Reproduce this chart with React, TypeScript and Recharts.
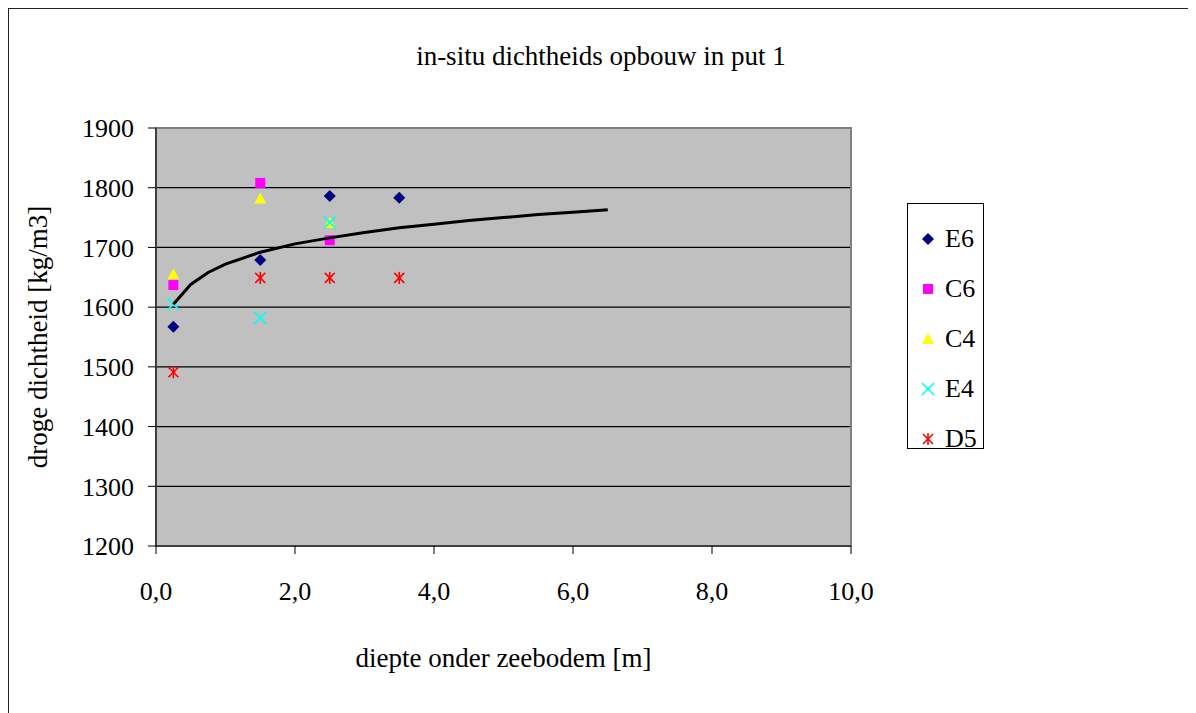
import React from "react"
import {
  ComposedChart, Scatter, XAxis, YAxis, CartesianGrid, ReferenceArea, Label
} from "recharts"

// diepte [m] per meetpunt
const depthE6 = [0.25, 1.5, 2.5, 3.5]
const densE6 = [1567, 1679, 1786, 1783]
const depthC6 = [0.25, 1.5, 2.5]
const densC6 = [1637, 1808, 1712]
const depthC4 = [0.25, 1.5, 2.5]
const densC4 = [1655, 1782, 1741]
const depthE4 = [0.25, 1.5, 2.5]
const densE4 = [1605, 1582, 1742]
const depthD5 = [0.25, 1.5, 2.5, 3.5]
const densD5 = [1491, 1649, 1649, 1649]

// trendlijn
const trendDepth = [0.25, 0.5, 0.75, 1.0, 1.5, 2.0, 2.5, 3.0, 3.5, 4.0, 4.5, 5.0, 5.5, 6.0, 6.5]
const trendDens = [1605, 1638, 1658, 1672, 1692, 1706, 1716, 1725, 1733, 1739, 1745, 1750, 1755, 1759, 1763]

const xTicks = [0, 2, 4, 6, 8, 10]
const yTicks = [1200, 1300, 1400, 1500, 1600, 1700, 1800, 1900]

const FONT = "'Liberation Serif', 'DejaVu Serif', serif"

const toPoints = (xs: number[], ys: number[]) => xs.map((x, i) => ({ x, y: ys[i] }))

type Kind = "diamond" | "square" | "triangle" | "x" | "star"

const series: { name: string; kind: Kind; color: string; data: { x: number; y: number }[] }[] = [
  { name: "E6", kind: "diamond", color: "#000080", data: toPoints(depthE6, densE6) },
  { name: "C6", kind: "square", color: "#ff00ff", data: toPoints(depthC6, densC6) },
  { name: "C4", kind: "triangle", color: "#ffff00", data: toPoints(depthC4, densC4) },
  { name: "E4", kind: "x", color: "#00ffff", data: toPoints(depthE4, densE4) },
  { name: "D5", kind: "star", color: "#ff0000", data: toPoints(depthD5, densD5) },
]

function Marker({ cx, cy, kind, color }: { cx: number; cy: number; kind: Kind; color: string }) {
  if (cx == null || cy == null) return null
  const r = 6
  switch (kind) {
    case "diamond":
      return <polygon points={`${cx},${cy - r} ${cx + r},${cy} ${cx},${cy + r} ${cx - r},${cy}`} fill={color} />
    case "square":
      return <rect x={cx - 5} y={cy - 5} width={10} height={10} fill={color} />
    case "triangle":
      return <polygon points={`${cx},${cy - 6} ${cx + 6},${cy + 5} ${cx - 6},${cy + 5}`} fill={color} />
    case "x":
      return (
        <g stroke={color} strokeWidth={1.6}>
          <line x1={cx - 6} y1={cy - 6} x2={cx + 6} y2={cy + 6} />
          <line x1={cx - 6} y1={cy + 6} x2={cx + 6} y2={cy - 6} />
        </g>
      )
    case "star":
      return (
        <g stroke={color} strokeWidth={1.6}>
          <line x1={cx - 5} y1={cy - 5} x2={cx + 5} y2={cy + 5} />
          <line x1={cx - 5} y1={cy + 5} x2={cx + 5} y2={cy - 5} />
          <line x1={cx} y1={cy - 6} x2={cx} y2={cy + 6} />
        </g>
      )
  }
  return null
}

function LegendBox() {
  return (
    <div style={{
      position: "absolute", left: 898, top: 194,
      width: 77, height: 246, boxSizing: "border-box", border: "1px solid #000",
      background: "#fff", fontFamily: FONT, fontSize: 26, paddingTop: 10,
    }}>
      {series.map(s => (
        <div key={s.name} style={{ display: "flex", alignItems: "center", height: 50 }}>
          <svg width={40} height={20}>
            <Marker cx={20} cy={10} kind={s.kind} color={s.color} />
          </svg>
          <span style={{ marginLeft: -3 }}>{s.name}</span>
        </div>
      ))}
    </div>
  )
}

export default function App() {
  const trend = toPoints(trendDepth, trendDens)
  return (
    <div style={{
      position: "relative", left: -1, top: -1, width: 1189, height: 706,
      borderTop: "2px solid #222", borderLeft: "2px solid #222", fontFamily: FONT,
    }}>
      <div style={{
        position: "absolute", left: 0, top: 32, width: 1184, textAlign: "center",
        fontSize: 27, color: "#000",
      }}>
        in-situ dichtheids opbouw in put 1
      </div>
      <ComposedChart
        width={1187}
        height={704}
        margin={{ top: 119, right: 345, bottom: 0, left: 0 }}
        style={{ fontFamily: FONT }}
      >
        <CartesianGrid vertical={false} stroke="#000" strokeWidth={1.3} fill="#c0c0c0" />
        <ReferenceArea x1={0} x2={10} y1={1200} y2={1900} fill="none" stroke="#808080" strokeWidth={2} />
        <XAxis
          type="number" dataKey="x" domain={[0, 10]} ticks={xTicks} height={167}
          tickFormatter={(v: number) => v.toFixed(1).replace(".", ",")}
          stroke="#000" tickSize={8} tickMargin={28}
          tick={{ fill: "#000", fontSize: 26 }}
        >
          <Label value="diepte onder zeebodem [m]" position="insideBottom" offset={46}
            style={{ fill: "#000", fontSize: 27 }} />
        </XAxis>
        <YAxis
          type="number" dataKey="y" domain={[1200, 1900]} ticks={yTicks} width={147}
          stroke="#000" tickSize={8} tickMargin={14}
          tick={{ fill: "#000", fontSize: 26 }}
        >
          <Label
            content={() => (
              <text x={32} y={328} transform="rotate(-90 32 328)" textAnchor="middle"
                dominantBaseline="middle" fill="#000" fontSize={27}>
                droge dichtheid [kg/m3]
              </text>
            )}
          />
        </YAxis>
        {series.map(s => (
          <Scatter
            key={s.name}
            name={s.name}
            data={s.data}
            isAnimationActive={false}
            shape={(p: any) => <Marker cx={p.cx} cy={p.cy} kind={s.kind} color={s.color} />}
          />
        ))}
        <Scatter
          name="trend"
          data={trend}
          isAnimationActive={false}
          line={{ stroke: "#000", strokeWidth: 3 }}
          shape={() => <g />}
          legendType="none"
        />
      </ComposedChart>
      <LegendBox />
    </div>
  )
}
